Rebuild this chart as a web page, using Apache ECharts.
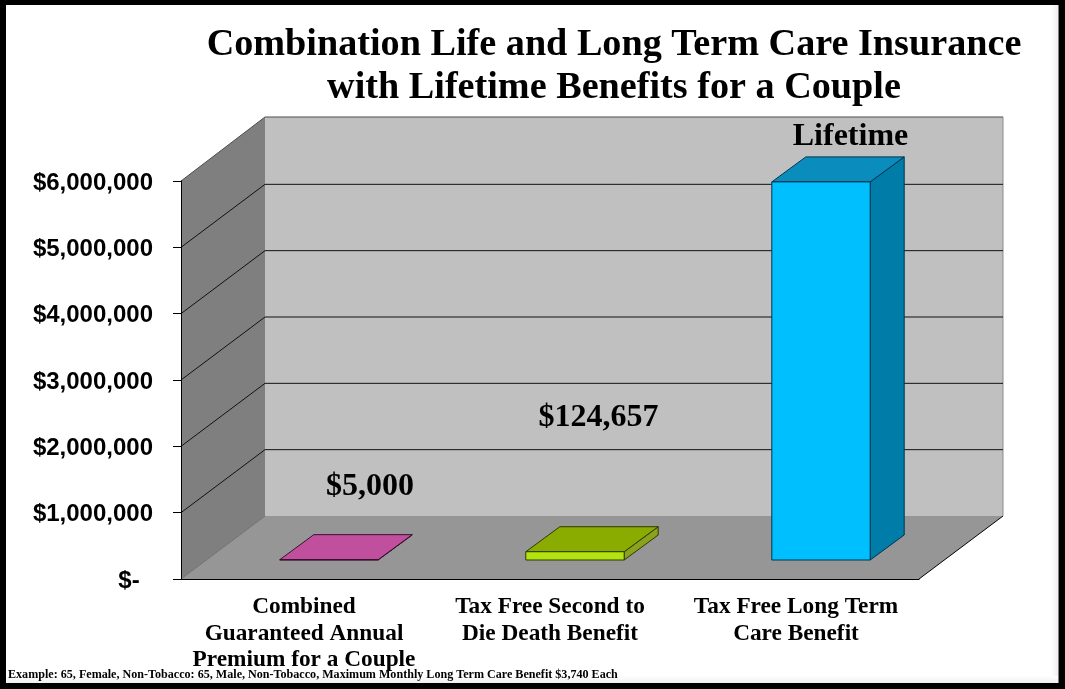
<!DOCTYPE html>
<html>
<head>
<meta charset="utf-8">
<style>
  html, body { margin: 0; padding: 0; background: #fff; }
  #chart { width: 1065px; height: 689px; }
</style>
<script src="https://cdn.jsdelivr.net/npm/echarts@6/dist/echarts.min.js"></script>
</head>
<body>
<div id="chart"></div>
<script>
const categories = [
  "Combined\nGuaranteed Annual\nPremium for a Couple",
  "Tax Free Second to\nDie Death Benefit",
  "Tax Free Long Term\nCare Benefit",
]
const benefitValues = [5000, 124657, 5700000]
const tickValues = [1000000, 2000000, 3000000, 4000000, 5000000, 6000000]
const tickLabels = ["$-", "$1,000,000", "$2,000,000", "$3,000,000", "$4,000,000", "$5,000,000", "$6,000,000"]
const titleLines = ["Combination Life and Long Term Care Insurance", "with Lifetime Benefits for a Couple"]
const footnote = "Example: 65, Female, Non-Tobacco: 65, Male, Non-Tobacco, Maximum Monthly Long Term Care Benefit $3,740 Each"

// fake 3d: how far the back wall sits from the axis plane
const WALL_DX = 84
const WALL_DY = -63
// bars stand a bit inside the floor and have their own depth
const BAR_INSET_DX = 25
const BAR_INSET_DY = -19
const BAR_DX = 34
const BAR_DY = -25

const barColors = [
  { front: "#c44fa0", top: "#c04f9e", side: "#96397a", edge: "#3a0f30" },
  { front: "#b4e312", top: "#8aab00", side: "#8ba31c", edge: "#2c3a00" },
  { front: "#00bfff", top: "#0a8cbc", side: "#007ca8", edge: "#00344f" },
]

function poly(points, fill, stroke, width) {
  return {
    type: "polygon",
    shape: { points },
    style: { fill, stroke: stroke || "none", lineWidth: width || 0 },
  }
}

function segment(a, b, color) {
  return {
    type: "line",
    shape: { x1: a[0], y1: a[1], x2: b[0], y2: b[1] },
    style: { stroke: color, lineWidth: 1 },
  }
}

function renderWalls(params, api) {
  const rect = params.coordSys
  const left = rect.x
  const right = rect.x + rect.width
  const bottom = api.coord([0, 0])[1]
  const top = api.coord([0, 6000000])[1]
  return {
    type: "group",
    children: [
      poly([[left + WALL_DX, top + WALL_DY - 1], [right + WALL_DX, top + WALL_DY - 1], [right + WALL_DX, bottom + WALL_DY], [left + WALL_DX, bottom + WALL_DY]], "#c0c0c0"),
      poly([[left, top], [left + WALL_DX, top + WALL_DY - 1], [left + WALL_DX, bottom + WALL_DY], [left, bottom]], "#7f7f7f"),
      poly([[left, bottom], [left + WALL_DX, bottom + WALL_DY], [right + WALL_DX, bottom + WALL_DY], [right, bottom]], "#969696"),
      segment([left, bottom], [left + WALL_DX, bottom + WALL_DY], "#6e6e6e"),
      segment([right, bottom], [right + WALL_DX, bottom + WALL_DY], "#000"),
      segment([right + WALL_DX, top + WALL_DY - 1], [right + WALL_DX, bottom + WALL_DY], "#8c8c8c"),
    ],
  }
}

function renderGridLine(params, api) {
  const rect = params.coordSys
  const value = api.value(0)
  const y = api.coord([0, value])[1]
  const isTop = params.dataIndex === tickValues.length - 1
  const color = isTop ? "#4d4d4d" : "#111"
  const backY = y + WALL_DY - (isTop ? 1 : 0)
  return {
    type: "group",
    children: [
      segment([rect.x, y], [rect.x + WALL_DX, backY], color),
      segment([rect.x + WALL_DX, backY], [rect.x + rect.width + WALL_DX, backY], color),
    ],
  }
}

function renderBar(params, api) {
  const idx = api.value(0)
  const top = api.coord([idx, api.value(1)])
  const base = api.coord([idx, 0])
  const width = api.size([1, 0])[0] * 0.4
  const x0 = top[0] - width / 2 + BAR_INSET_DX
  const x1 = x0 + width
  const y0 = top[1] + BAR_INSET_DY
  const y1 = base[1] + BAR_INSET_DY
  const c = barColors[idx]
  return {
    type: "group",
    children: [
      poly([[x1, y0], [x1 + BAR_DX, y0 + BAR_DY], [x1 + BAR_DX, y1 + BAR_DY], [x1, y1]], c.side, c.edge, 1),
      poly([[x0, y0], [x0 + BAR_DX, y0 + BAR_DY], [x1 + BAR_DX, y0 + BAR_DY], [x1, y0]], c.top, c.edge, 1),
      poly([[x0, y0], [x1, y0], [x1, y1], [x0, y1]], c.front, c.edge, 1),
    ],
  }
}

function noteText(text, x, y, size) {
  return {
    type: "text",
    x,
    y,
    z: 50,
    style: {
      text,
      fill: "#000",
      font: "bold " + size + "px 'Liberation Serif'",
      textAlign: "center",
      textVerticalAlign: "middle",
    },
  }
}

// soft fade just inside the frame, right and bottom sides
function fadeStrip(x, y, width, height, toRight) {
  return {
    type: "rect",
    z: 5,
    shape: { x, y, width, height },
    style: {
      fill: new echarts.graphic.LinearGradient(0, 0, toRight ? 1 : 0, toRight ? 0 : 1, [
        { offset: 0, color: "#ffffff" },
        { offset: 1, color: "#efefef" },
      ]),
    },
  }
}

const chart = echarts.init(document.getElementById("chart"))

chart.setOption({
  animation: false,
  backgroundColor: "#fff",
  title: {
    text: titleLines.join("\n"),
    left: 609,
    top: 19,
    textAlign: "center",
    textStyle: {
      fontFamily: "'Liberation Serif'",
      fontWeight: "bold",
      fontSize: 38.2,
      lineHeight: 43,
      color: "#000",
    },
  },
  grid: { left: 181, right: 146, top: 181, bottom: 110 },
  xAxis: {
    type: "category",
    data: categories,
    z: 10,
    axisLine: { lineStyle: { color: "#000", width: 1 } },
    axisTick: { length: 7, lineStyle: { color: "#000" } },
    axisLabel: {
      interval: 0,
      margin: 15,
      color: "#000",
      fontFamily: "'Liberation Serif'",
      fontWeight: "bold",
      fontSize: 23.3,
      lineHeight: 26.5,
    },
  },
  yAxis: {
    type: "value",
    min: 0,
    max: 6000000,
    interval: 1000000,
    z: 10,
    splitLine: { show: false },
    axisLine: { show: true, lineStyle: { color: "#000", width: 1 } },
    axisTick: { show: true, length: 8, lineStyle: { color: "#000" } },
    axisLabel: {
      margin: 28,
      formatter: (value, i) => "{t|" + (i === 0 ? tickLabels[i] + "\u00a0\u00a0" : tickLabels[i]) + "}",
      rich: {
        t: {
          padding: [4, 0, 0, 0],
          color: "#000",
          fontFamily: "'Liberation Sans'",
          fontWeight: "bold",
          fontSize: 24,
        },
      },
    },
  },
  series: [
    { type: "custom", renderItem: renderWalls, data: [0], z: 1, silent: true },
    { type: "custom", renderItem: renderGridLine, data: tickValues.map(v => [v]), encode: { y: 0 }, z: 2, silent: true },
    { type: "custom", renderItem: renderBar, data: benefitValues.map((v, i) => [i, v]), encode: { x: 0, y: 1 }, z: 3 },
  ],
  graphic: [
    fadeStrip(1051, 5, 7, 678, true),
    fadeStrip(6, 676, 1052, 7, false),
    noteText("$5,000", 370, 487, 32),
    noteText("$124,657", 598.5, 418, 32),
    noteText("Lifetime", 850.5, 137, 32),
    {
      type: "text",
      x: 8,
      y: 675,
      z: 50,
      style: {
        text: footnote,
        fill: "#000",
        font: "bold 12.1px 'Liberation Serif'",
        textVerticalAlign: "middle",
      },
    },
    // picture frame
    {
      type: "rect",
      z: 60,
      shape: { x: 0, y: -1, width: 1064.5, height: 690 },
      style: { fill: "none", stroke: "#000", lineWidth: 12 },
    },
  ],
})

window.addEventListener("resize", () => chart.resize())
</script>
</body>
</html>
